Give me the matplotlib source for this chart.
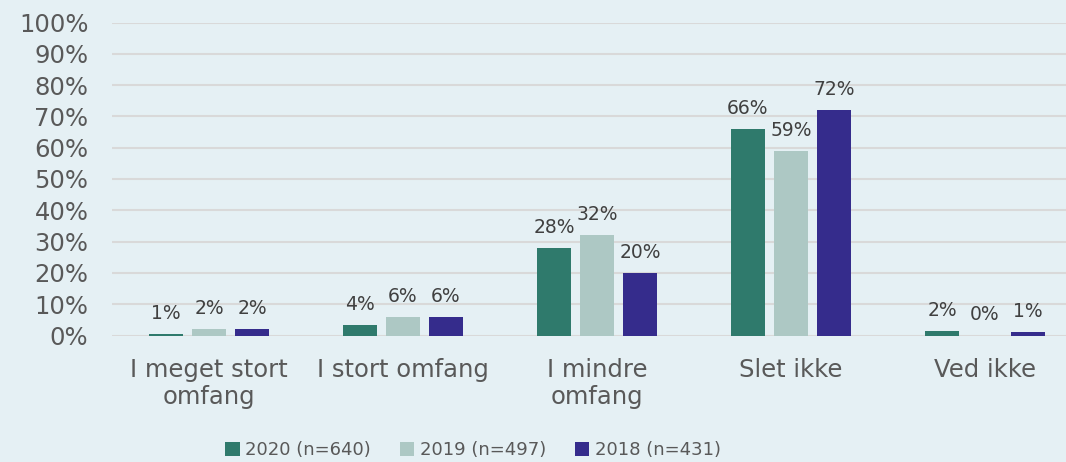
import numpy as np
import matplotlib.pyplot as plt

categories = ["I meget stort\nomfang", "I stort omfang", "I mindre\nomfang", "Slet ikke", "Ved ikke"]
series = ["2020 (n=640)", "2019 (n=497)", "2018 (n=431)"]
v2020 = [0.6, 3.5, 28, 66, 1.5]
v2019 = [2, 6, 32, 59, 0]
v2018 = [2, 6, 20, 72, 1]
colors = ["#2f7a6c", "#adc8c4", "#352c8c"]

bg = "#e5f0f4"
fig = plt.figure(figsize=(10.66, 4.62), dpi=100, facecolor=bg)
ax = fig.add_axes([112/1066, 126.5/462, 970/1066, 313/462], facecolor=bg)

x = np.arange(len(categories))
w = 34/194
step = 43/194
for i, (vals, lab, c) in enumerate(zip([v2020, v2019, v2018], series, colors)):
    pos = x + (i - 1)*step
    ax.bar(pos, vals, width=w, color=c, label=lab, zorder=3)
    for px, v in zip(pos, vals):
        ax.annotate(f"{round(v)}%", (px, v), xytext=(0, 10.8), textcoords="offset points",
                    ha="center", va="baseline", fontsize=13.5, color="#404040")

ax.set_ylim(0, 100)
ax.set_xlim(-0.5, 4.5)
ax.set_yticks(np.arange(0, 101, 10))
ax.set_yticklabels([f"{t}%" for t in range(0, 101, 10)])
ax.set_xticks(x)
ax.set_xticklabels(categories, linespacing=1.15)
ax.tick_params(axis="y", length=0, pad=17, labelsize=17.5, labelcolor="#595959")
ax.tick_params(axis="x", length=0, pad=16, labelsize=17.5, labelcolor="#595959")
ax.grid(axis="y", color="#d9d9d9", lw=1.5, zorder=0)
for s in ax.spines.values():
    s.set_visible(False)

fig.legend(loc="center", bbox_to_anchor=(473/1066, 1 - 450/462), ncol=3, frameon=False,
           fontsize=13, labelcolor="#595959", handlelength=0.8, handleheight=0.8,
           handletextpad=0.3, columnspacing=1.6)

fig.savefig("out.png", dpi=100, facecolor=bg)
